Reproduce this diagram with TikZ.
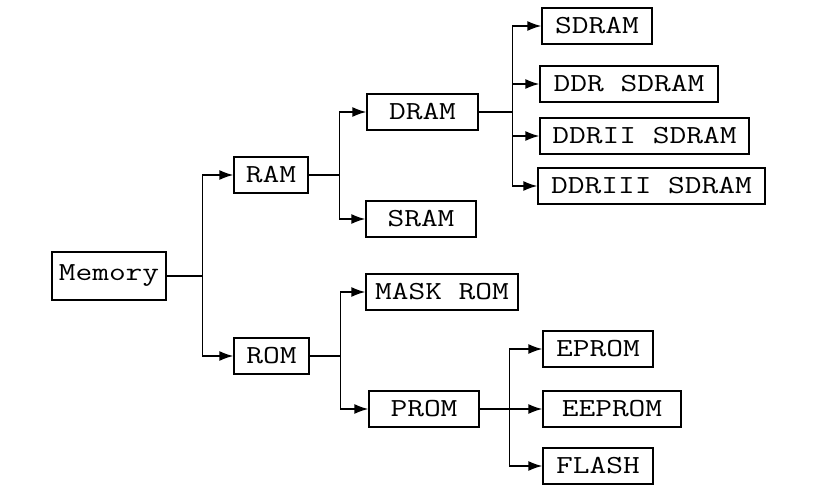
\documentclass[tikz,border=0pt]{standalone}
\usepackage{fontspec}
\setmonofont{Latin Modern Mono}[FakeStretch=1.25]
\usetikzlibrary{arrows.meta}

\begin{document}
\begin{tikzpicture}[x=1pt,y=-1pt,line width=1.4pt,
    >={Latex[length=14pt,width=10pt]},
    box/.style={draw,inner sep=0pt,minimum height=36pt,font=\ttfamily\fontsize{26}{26}\selectfont}]
    \useasboundingbox[fill=white] (0,0) rectangle (824,494);
    % level 0 and 1
    \node[box,minimum width=114pt,minimum height=48pt] (mem) at (109,276) {Memory};
    \node[box,minimum width=74pt] (ram) at (271,175) {RAM};
    \node[box,minimum width=75pt] (rom) at (271.5,356) {ROM};
    % level 2
    \node[box,minimum width=111pt] (dram) at (422.5,112) {DRAM};
    \node[box,minimum width=110pt] (sram) at (421,219) {SRAM};
    \node[box,minimum width=152pt] (mask) at (442,292) {MASK ROM};
    \node[box,minimum width=110pt] (prom) at (424,409) {PROM};
    % level 3
    \node[box,minimum width=110pt] (sdram) at (597,26) {SDRAM};
    \node[box,minimum width=178pt] (ddr) at (629,84) {DDR SDRAM};
    \node[box,minimum width=209pt] (ddr2) at (644.5,136) {DDRII SDRAM};
    \node[box,minimum width=227pt] (ddr3) at (651.5,186) {DDRIII SDRAM};
    \node[box,minimum width=110pt] (eprom) at (598,349) {EPROM};
    \node[box,minimum width=138pt] (eeprom) at (612,409) {EEPROM};
    \node[box,minimum width=110pt] (flash) at (598,466) {FLASH};
    % connectors
    \draw[->] (mem.east) -- ++(36,0) |- (ram);
    \draw[->] (mem.east) -- ++(36,0) |- (rom);
    \draw[->] (ram.east) -- ++(31,0) |- (dram);
    \draw[->] (ram.east) -- ++(31,0) |- (sram);
    \draw[->] (rom.east) -- ++(31,0) |- (mask);
    \draw[->] (rom.east) -- ++(31,0) |- (prom);
    \draw[->] (dram.east) -- ++(34,0) |- (sdram);
    \draw[->] (dram.east) -- ++(34,0) |- (ddr);
    \draw[->] (dram.east) -- ++(34,0) |- (ddr2);
    \draw[->] (dram.east) -- ++(34,0) |- (ddr3);
    \draw[->] (prom.east) -- ++(30,0) |- (eprom);
    \draw[->] (prom.east) -- (eeprom);
    \draw[->] (prom.east) -- ++(30,0) |- (flash);
\end{tikzpicture}
\end{document}
